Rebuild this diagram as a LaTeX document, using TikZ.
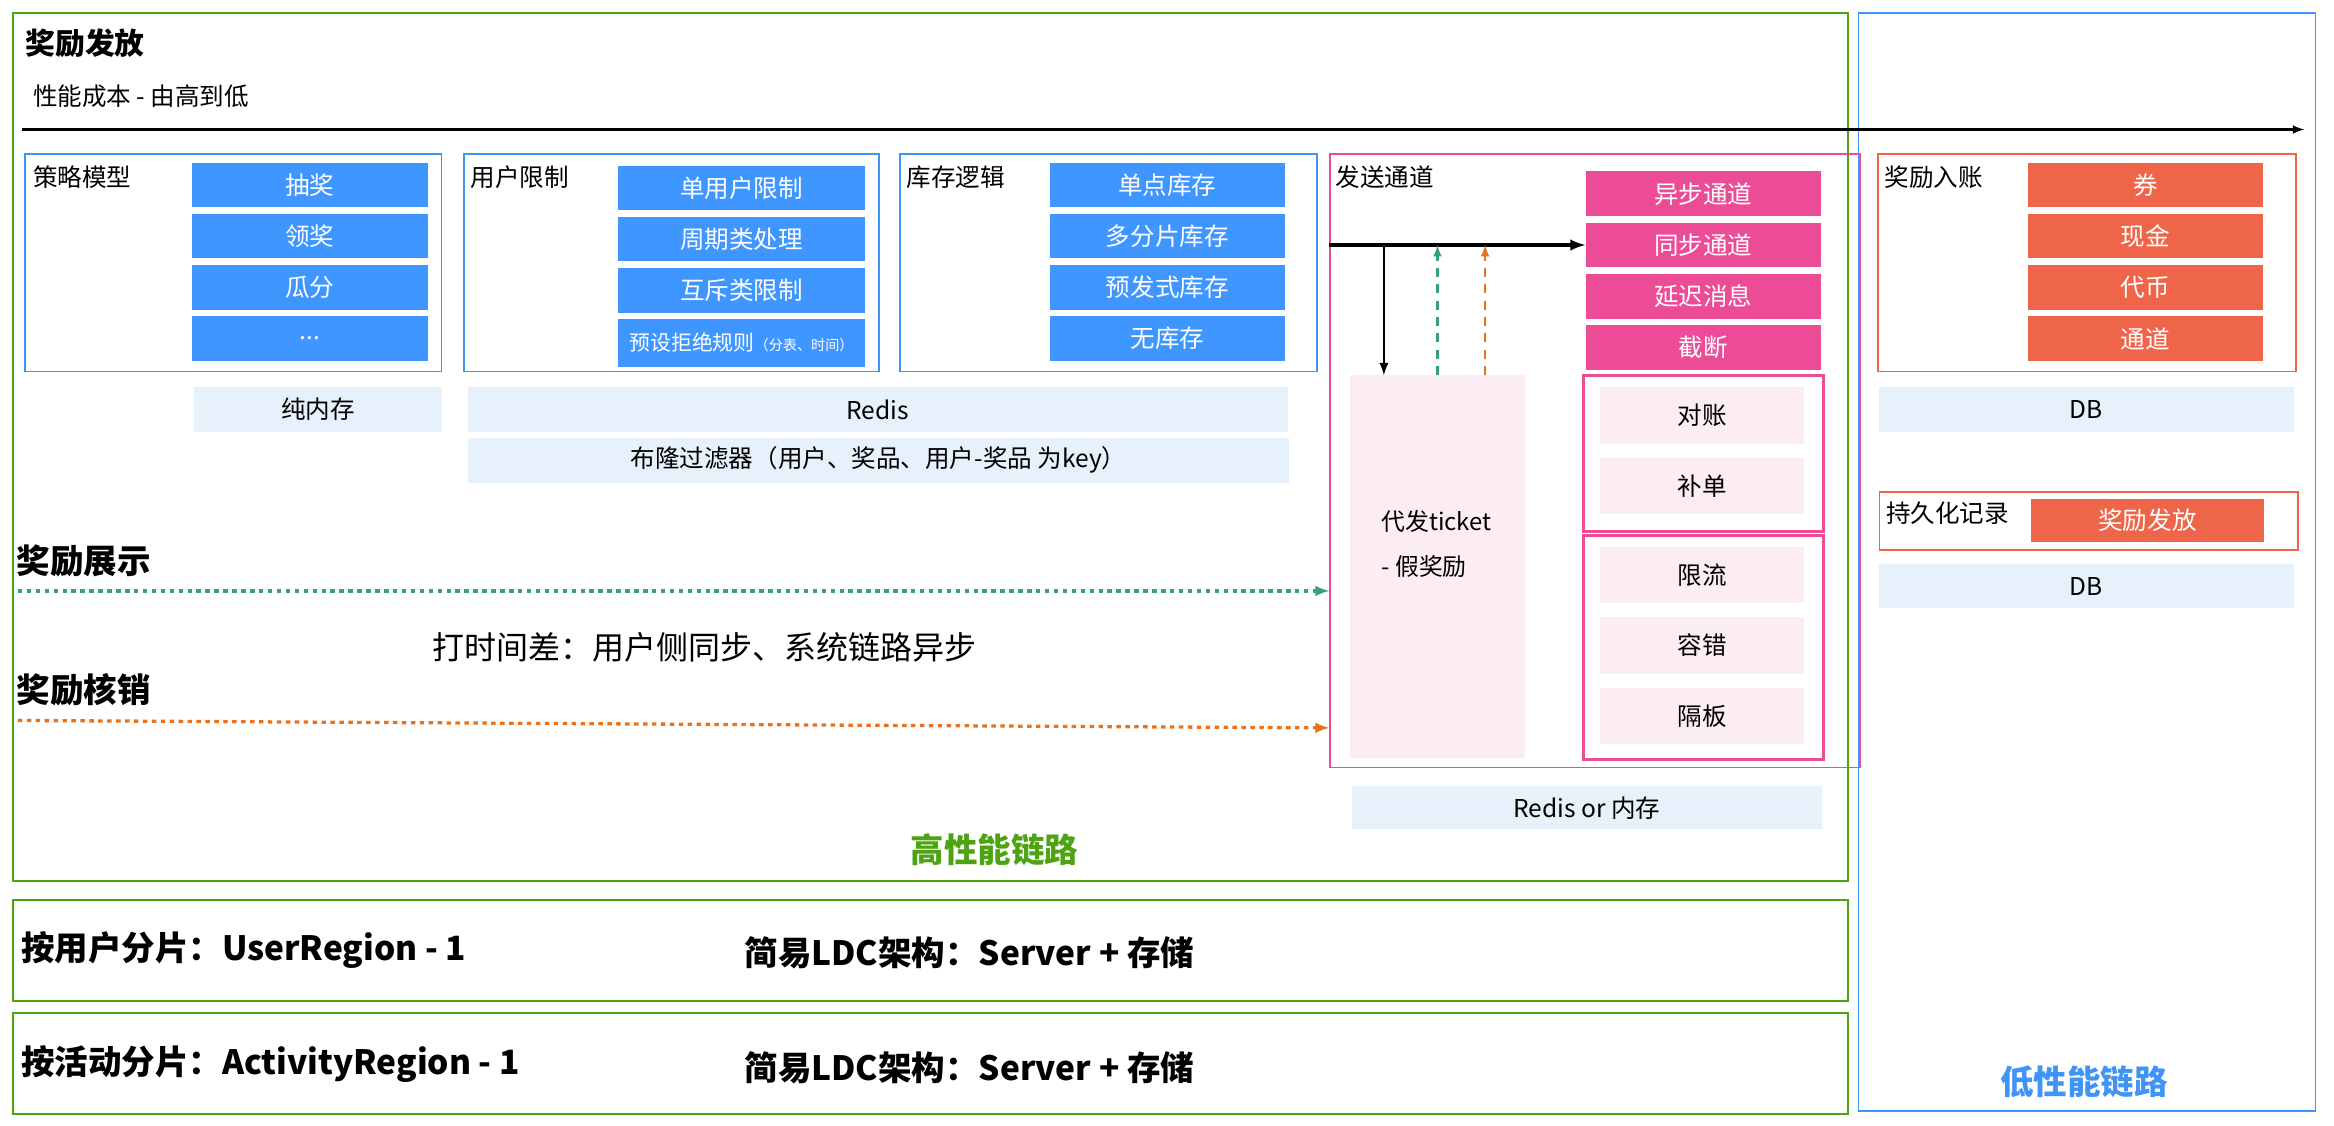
\documentclass[tikz,border=0pt]{standalone}
\usepackage{fontspec}
\setmainfont{Noto Sans CJK SC}
\usetikzlibrary{positioning}
\usetikzlibrary{arrows}

\definecolor{hiGreen}{RGB}{77,163,18}
\definecolor{loBlue}{RGB}{64,148,245}
\definecolor{itemBlue}{RGB}{64,150,255}
\definecolor{paleBlue}{RGB}{230,241,252}
\definecolor{hotPink}{RGB}{236,76,150}
\definecolor{palePink}{RGB}{252,236,244}
\definecolor{coral}{RGB}{239,101,74}
\definecolor{showTeal}{RGB}{54,160,128}
\definecolor{useOrange}{RGB}{232,115,28}

\begin{document}
\begin{tikzpicture}[
    x=1pt, y=-1pt,
    >=latex,
    node distance=4pt,
    every node/.style={font=\fontsize{16.5}{18}\selectfont},
    frame/.style={draw=#1, line width=1.2pt, anchor=north west, inner sep=0},
    label/.style={anchor=north west, inner sep=0},
    bold/.style={font=\fontsize{22.5}{24}\selectfont\bfseries},
    item/.style={fill=#1, text=white, minimum width=158pt, minimum height=30pt, inner sep=0},
    store/.style={fill=paleBlue, anchor=north west, minimum height=30pt, inner sep=0},
    soft/.style={fill=palePink, minimum width=137pt, minimum height=38pt, inner sep=0},
    dotarrow/.style={->, line width=2.2pt, dash pattern=on 3pt off 3pt},
    uparrow/.style={->, line width=1.6pt, dash pattern=on 6pt off 5pt}
]
\useasboundingbox (0,0) rectangle (1568,756);

% outer regions
\node[frame=hiGreen, minimum width=1233pt, minimum height=583pt] (high) at (8,8) {};
\node[frame=loBlue, minimum width=307pt, minimum height=738pt] (low) at (1248,8) {};
\node[frame=hiGreen, minimum width=1233pt, minimum height=68pt] (byUser) at (8,604) {};
\node[frame=hiGreen, minimum width=1233pt, minimum height=68pt] (byAct) at (8,680) {};

\node[label, font=\fontsize{20}{22}\selectfont\bfseries] (title) at (17,19) {奖励发放};
\node[label] (cost) at (22,57) {性能成本 - 由高到低};
\coordinate (costL) at (15,87);
\coordinate (costR) at (1548,87);
\draw[->, line width=1.6pt] (costL) -- (costR);

% strategy
\node[frame=loBlue, minimum width=280pt, minimum height=146pt] (strat) at (16,103) {};
\node[label] at ([xshift=6pt, yshift=-8pt]strat.north west) {策略模型};
\node[item=itemBlue, anchor=north west] (draw) at (129,109) {抽奖};
\node[item=itemBlue, below=of draw] (claim) {领奖};
\node[item=itemBlue, below=of claim] (split) {瓜分};
\node[item=itemBlue, below=of split] (more) {...};
\node[store, minimum width=167pt] (mem) at (130,260) {纯内存};

% user limits
\node[frame=loBlue, minimum width=279pt, minimum height=146pt] (limit) at (311,103) {};
\node[label] at ([xshift=5pt, yshift=-8pt]limit.north west) {用户限制};
\node[item=itemBlue, minimum width=166pt, anchor=north west] (single) at (415,111) {单用户限制};
\node[item=itemBlue, minimum width=166pt, below=of single] (period) {周期类处理};
\node[item=itemBlue, minimum width=166pt, below=of period] (mutex) {互斥类限制};
\node[item=itemBlue, minimum width=166pt, minimum height=32pt, below=of mutex, font=\fontsize{14}{16}\selectfont] (reject) {预设拒绝规则{\fontsize{9.5}{10}\selectfont（分表、时间）}};
\node[store, minimum width=551pt] (redis) at (314,260) {Redis};
\node[store, minimum width=552pt] (bloom) at (314,294) {布隆过滤器（用户、奖品、用户-奖品 为key）};

% stock logic
\node[frame=loBlue, minimum width=280pt, minimum height=146pt] (stock) at (604,103) {};
\node[label] at ([xshift=5pt, yshift=-8pt]stock.north west) {库存逻辑};
\node[item=itemBlue, anchor=north west] (point) at (705,109) {单点库存};
\node[item=itemBlue, below=of point] (shard) {多分片库存};
\node[item=itemBlue, below=of shard] (pre) {预发式库存};
\node[item=itemBlue, below=of pre] (none) {无库存};

% send channel
\node[frame=hotPink, minimum width=356pt, minimum height=412pt] (send) at (893,103) {};
\node[label] at ([xshift=4pt, yshift=-8pt]send.north west) {发送通道};
\node[item=hotPink, anchor=north west] (async) at (1065,115) {异步通道};
\node[item=hotPink, below=of async] (sync) {同步通道};
\node[item=hotPink, below=of sync] (delay) {延迟消息};
\node[item=hotPink, below=of delay] (cut) {截断};
\node[frame=hotPink, line width=2pt, minimum width=161pt, minimum height=105pt] (check) at (1063,251) {};
\node[soft, anchor=north west] (recon) at (1075,260) {对账};
\node[soft, below=9pt of recon] (refill) {补单};
\node[frame=hotPink, line width=2pt, minimum width=161pt, minimum height=150pt] (guard) at (1063,359) {};
\node[soft, anchor=north west] (rate) at (1075,367) {限流};
\node[soft, below=9pt of rate] (fault) {容错};
\node[soft, below=9pt of fault] (bulk) {隔板};
\node[fill=palePink, anchor=north west, minimum width=117pt, minimum height=257pt, inner sep=0] (ticket) at (907,252) {};
\node[label, align=left, font=\fontsize{16}{30}\selectfont] at (928,343) {代发ticket\\- 假奖励};
\node[store, minimum width=316pt, minimum height=29pt] (cache) at (908,528) {Redis or 内存};

\coordinate (fork) at ([xshift=-36pt]ticket.north |- sync.west);
\draw[->, line width=2.4pt] (send.west |- sync.west) -- (sync.west);
\draw[->, line width=1.8pt] (fork) -- (fork |- ticket.north);
\draw[uparrow, showTeal] (ticket.north) -- (ticket.north |- fork);
\draw[uparrow, useOrange] ([xshift=32pt]ticket.north) -- ([xshift=32pt]ticket.north |- fork);

% reward account
\node[frame=coral, minimum width=281pt, minimum height=146pt] (account) at (1261,103) {};
\node[label] at ([xshift=5pt, yshift=-8pt]account.north west) {奖励入账};
\node[item=coral, anchor=north west] (coupon) at (1362,109) {券};
\node[item=coral, below=of coupon] (cash) {现金};
\node[item=coral, below=of cash] (token) {代币};
\node[item=coral, below=of token] (channel) {通道};
\node[store, minimum width=279pt] (db) at (1262,260) {DB};
\node[frame=coral, minimum width=281pt, minimum height=39pt] (persist) at (1262,330) {};
\node[label] at ([xshift=5pt, yshift=-7pt]persist.north west) {持久化记录};
\node[item=coral, minimum width=157pt, minimum height=29pt, anchor=north west] (issued) at (1364,335) {奖励发放};
\node[store, minimum width=279pt, minimum height=29pt] (db2) at (1262,379) {DB};

% show and redeem
\node[label, bold] (show) at (11,366) {奖励展示};
\coordinate (showL) at (12,397);
\draw[dotarrow, showTeal] (showL) -- (showL -| send.west);
\node[font=\fontsize{21.5}{23}\selectfont] (gap) at (473,435) {打时间差：用户侧同步、系统链路异步};
\node[label, bold] (redeem) at (11,452) {奖励核销};
\coordinate (useL) at (12,484);
\coordinate (useR) at (893,489);
\draw[dotarrow, useOrange] (useL) -- (useR);

\node[font=\fontsize{22.5}{24}\selectfont\bfseries, text=hiGreen] (highTxt) at (668,571) {高性能链路};
\node[font=\fontsize{22.5}{24}\selectfont\bfseries, text=loBlue] (lowTxt) at (1400,727) {低性能链路};

% sharding
\node[label, bold, anchor=west] (userShard) at (14,638) {按用户分片：UserRegion - 1};
\node[label, bold, anchor=west] (userLdc) at (500,640) {简易LDC架构：Server + 存储};
\node[label, bold, anchor=west] (actShard) at (14,715) {按活动分片：ActivityRegion - 1};
\node[label, bold, anchor=west] (actLdc) at (500,717) {简易LDC架构：Server + 存储};
\end{tikzpicture}
\end{document}
